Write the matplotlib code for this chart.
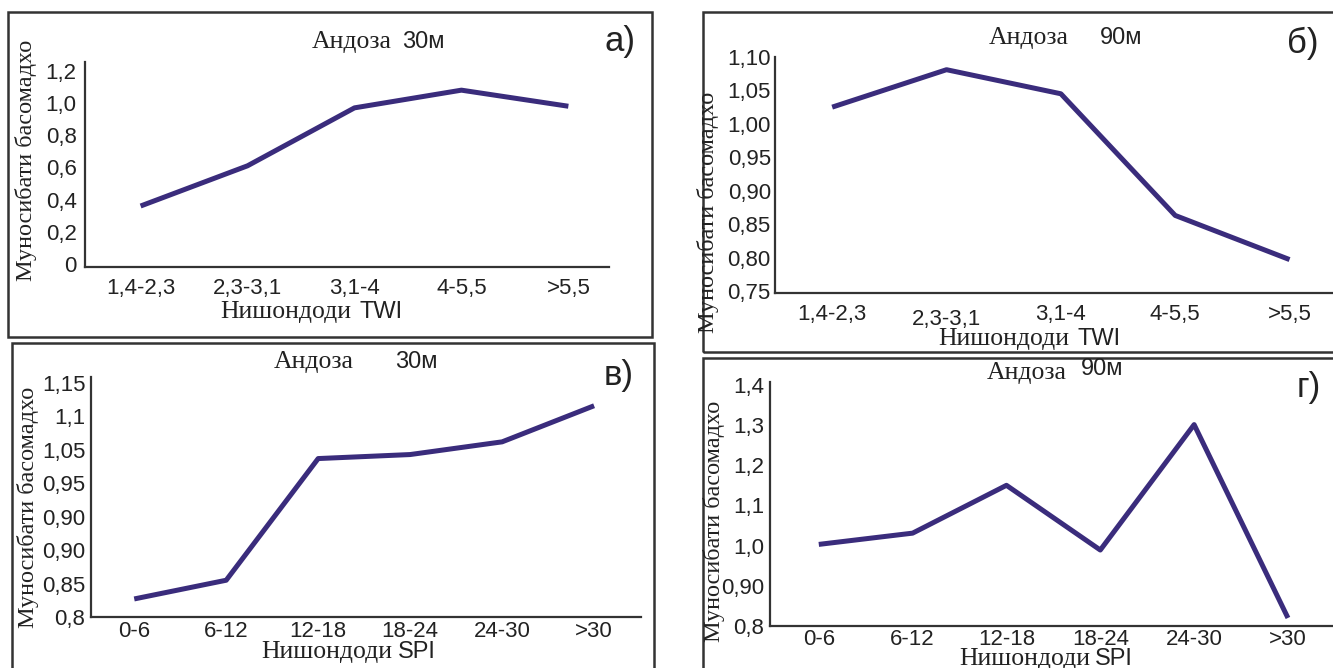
import numpy as np
import matplotlib
matplotlib.use("Agg")
import matplotlib.pyplot as plt
from matplotlib.patches import Rectangle


W, H = 1333, 668

LINE_COLOR = "#3a2c7c"
INK = "#222222"
FRAME = "#333333"

SERIF = "Liberation Serif"
SANS = "Liberation Sans"

twi_labels = ["1,4-2,3", "2,3-3,1", "3,1-4", "4-5,5", ">5,5"]
spi_labels = ["0-6", "6-12", "12-18", "18-24", "24-30", ">30"]

# коэффициенти басомадӣ барои ҳар синф
fr_twi_30 = [0.36, 0.61, 0.97, 1.08, 0.98]
fr_twi_90 = [1.025, 1.081, 1.045, 0.863, 0.797]
fr_spi_30 = [0.827, 0.855, 1.037, 1.043, 1.062, 1.116]
fr_spi_90 = [1.003, 1.031, 1.150, 0.989, 1.301, 0.820]

ticks_twi_30 = [0, 0.2, 0.4, 0.6, 0.8, 1.0, 1.2]
tick_labels_twi_30 = ["0", "0,2", "0,4", "0,6", "0,8", "1,0", "1,2"]
ticks_twi_90 = [0.75, 0.80, 0.85, 0.90, 0.95, 1.00, 1.05, 1.10]
tick_labels_twi_90 = ["0,75", "0,80", "0,85", "0,90", "0,95", "1,00", "1,05", "1,10"]
ticks_spi_30 = [0.80, 0.85, 0.90, 0.95, 1.00, 1.05, 1.10, 1.15]
tick_labels_spi_30 = ["0,8", "0,85", "0,90", "0,90", "0,95", "1,05", "1,1", "1,15"]
ticks_spi_90 = [0.8, 0.9, 1.0, 1.1, 1.2, 1.3, 1.4]
tick_labels_spi_90 = ["0,8", "0,90", "1,0", "1,1", "1,2", "1,3", "1,4"]

TICK_SIZE = 16
TITLE_SIZE = 18.5
UNIT_SIZE = 17
LETTER_SIZE = 25
XLABEL_SIZE = 18.5
YLABEL_SIZE = 17.5


def fx(x):
    return x / W


def fy(y):
    return 1 - y / H


def add_px_axes(fig, left, top, right, bottom):
    return fig.add_axes([fx(left), fy(bottom), (right - left) / W, (bottom - top) / H])


def add_frame(fig, left, top, right, bottom):
    fig.patches.append(Rectangle(
        (fx(left), fy(bottom)), (right - left) / W, (bottom - top) / H,
        transform=fig.transFigure, fill=False, edgecolor=FRAME, linewidth=1.8,
    ))


def draw_panel(ax, values, cats, yticks, ylabels, ylim, xlim, xpad, ypad):
    x = np.arange(len(cats))
    ax.plot(x, values, color=LINE_COLOR, linewidth=3.6,
            solid_joinstyle="round", solid_capstyle="butt")

    ax.set_xlim(*xlim)
    ax.set_ylim(*ylim)
    ax.set_xticks(x)
    ax.set_xticklabels(cats, fontfamily=SANS, fontsize=TICK_SIZE, color=INK)
    ax.set_yticks(yticks)
    ax.set_yticklabels(ylabels, fontfamily=SANS, fontsize=TICK_SIZE, color=INK)
    ax.tick_params(axis="x", length=0, pad=xpad)
    ax.tick_params(axis="y", length=0, pad=ypad)

    for side in ("top", "right"):
        ax.spines[side].set_visible(False)
    for side in ("left", "bottom"):
        ax.spines[side].set_color(FRAME)
        ax.spines[side].set_linewidth(1.6)
    ax.patch.set_alpha(0)


def put(fig, x, y, text, family, size, **kw):
    fig.text(fx(x), fy(y), text, fontfamily=family, fontsize=size,
             color=INK, va="center", **kw)


def panel_texts(fig, title_xy, unit_xy, unit, letter_xy, letter,
                xlab_xy, idx_x, idx, ylab_xy):
    put(fig, *title_xy, "Андоза", SERIF, TITLE_SIZE)
    put(fig, *unit_xy, unit, SANS, UNIT_SIZE)
    put(fig, *letter_xy, letter, SANS, LETTER_SIZE)
    put(fig, *xlab_xy, "Нишондоди", SERIF, XLABEL_SIZE)
    put(fig, idx_x, xlab_xy[1], idx, SANS, UNIT_SIZE)
    put(fig, *ylab_xy, "Муносибати басомадхо", SERIF, YLABEL_SIZE,
        rotation=90, ha="center")


fig = plt.figure(figsize=(W / 100, H / 100), dpi=100)
fig.patch.set_facecolor("white")

# рамкаҳои чор қисм
add_frame(fig, 8, 12, 652, 337)
add_frame(fig, 703, 12, 1345, 352)
add_frame(fig, 12, 343, 654, 680)
add_frame(fig, 703, 358, 1345, 680)

# а) TWI, 30 м
ax_a = add_px_axes(fig, 85, 62, 609, 267)
draw_panel(ax_a, fr_twi_30, twi_labels, ticks_twi_30, tick_labels_twi_30,
           (-0.019, 1.255), (-0.52, 4.38), 8, 6)
panel_texts(fig, (312, 42), (402, 42), "30м", (604, 42), "а)",
            (220, 312), 360, "TWI", (26, 160))

# б) TWI, 90 м
ax_b = add_px_axes(fig, 775, 57, 1333, 293)
draw_panel(ax_b, fr_twi_90, twi_labels, ticks_twi_90, tick_labels_twi_90,
           (0.747, 1.10), (-0.5, 4.38), 8, 3)
ax_b.get_xticklabels()[1].set_y(-0.02)
panel_texts(fig, (989, 38), (1100, 38), "90м", (1287, 43), "б)",
            (938, 339), 1078, "TWI", (708, 212))

# в) SPI, 30 м
ax_c = add_px_axes(fig, 91, 377, 641, 617)
draw_panel(ax_c, fr_spi_30, spi_labels, ticks_spi_30, tick_labels_spi_30,
           (0.80, 1.159), (-0.47, 5.51), 3, 4)
panel_texts(fig, (274, 362), (395, 362), "30м", (604, 375), "в)",
            (261, 652), 398, "SPI", (28, 507))

# г) SPI, 90 м
ax_d = add_px_axes(fig, 770, 382, 1333, 626)
draw_panel(ax_d, fr_spi_90, spi_labels, ticks_spi_90, tick_labels_spi_90,
           (0.80, 1.407), (-0.52, 5.48), 2, 4)
panel_texts(fig, (987, 373), (1081, 369), "90м", (1297, 387), "г)",
            (959, 659), 1095, "SPI", (714, 521))

fig.savefig("out.png", dpi=100, facecolor="white")
plt.close(fig)
